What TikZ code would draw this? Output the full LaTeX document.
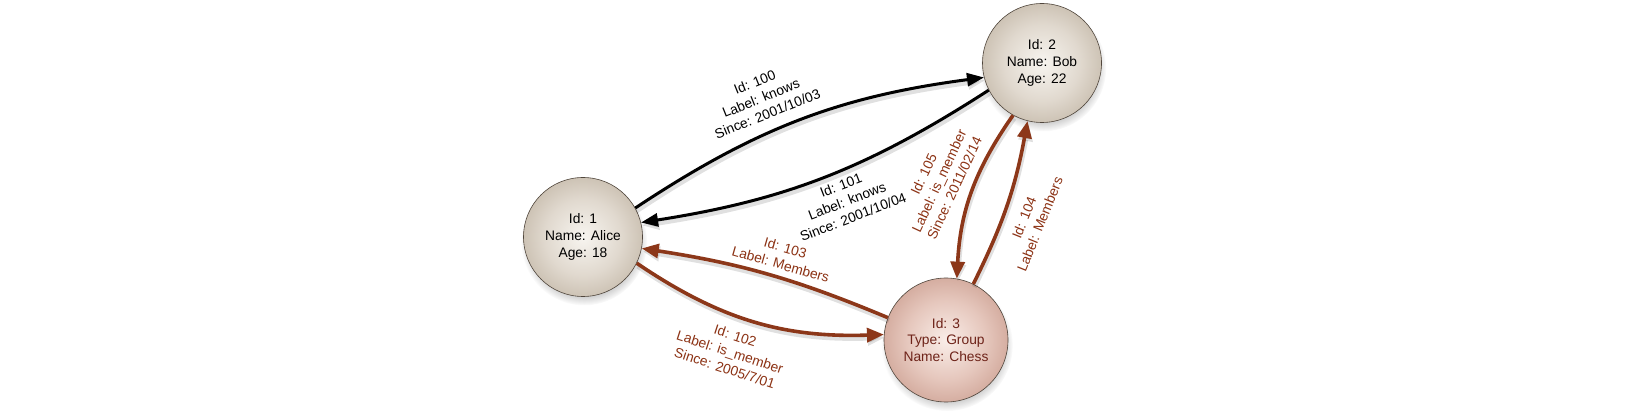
\documentclass[tikz,border=0pt]{standalone}
\usepackage{fontspec}
\setmainfont{Liberation Sans}
\usetikzlibrary{arrows.meta,fadings,shadows}
\definecolor{edgebrown}{RGB}{140,55,25}
\definecolor{labelbrown}{RGB}{140,50,20}
\definecolor{chesstext}{RGB}{110,35,25}
\definecolor{ringgray}{RGB}{80,70,60}
\pgfdeclareradialshading{personball}{\pgfpoint{0bp}{0bp}}{rgb(0bp)=(0.97,0.96,0.94); rgb(16bp)=(0.88,0.85,0.81); rgb(34bp)=(0.73,0.68,0.61); rgb(50bp)=(0.56,0.50,0.42)}
\pgfdeclareradialshading{groupball}{\pgfpoint{0bp}{0bp}}{rgb(0bp)=(0.98,0.93,0.91); rgb(16bp)=(0.90,0.78,0.74); rgb(34bp)=(0.77,0.58,0.52); rgb(50bp)=(0.62,0.39,0.32)}
\tikzset{
  ballbase/.style={circle, draw=ringgray, line width=0.6pt, inner sep=0pt, align=center,
    font=\fontsize{13.8}{16.7}\selectfont,
    drop shadow={opacity=0.5, shadow xshift=1pt, shadow yshift=-5pt, shadow scale=1.06,
      path fading=circle with fuzzy edge 20 percent}},
  person/.style={ballbase, shading=personball, minimum size=119pt, text=black},
  group/.style={ballbase, shading=groupball, minimum size=124pt, text=chesstext},
  edgeshadow/.style={preaction={draw=black, opacity=0.12, line width=5pt,
      transform canvas={xshift=1pt,yshift=-3pt}}},
  blackedge/.style={draw=black, line width=3pt, -{Triangle[length=17pt,width=13pt]}, edgeshadow},
  brownedge/.style={draw=edgebrown, line width=3.6pt, -{Triangle[length=17pt,width=14pt]}, edgeshadow},
  lbl/.style={align=center, inner sep=0pt, font=\fontsize{13.8}{17}\selectfont},
}
\begin{document}
\begin{tikzpicture}[x=1pt,y=-1pt]
\useasboundingbox[fill=white] (0,0) rectangle (1646,419);
\node[person] (alice) at (583,237) {Id: 1\\Name: Alice\\Age: 18};
\node[person] (bob) at (1042,63) {Id: 2\\Name: Bob\\Age: 22};
\node[group] (chess) at (946,340) {Id: 3\\Type: Group\\Name: Chess};

\draw[blackedge] (alice.29) to[bend left=13] (bob.194);
\draw[blackedge] (bob.207) to[bend left=12] (alice.14);
\draw[brownedge] (chess.159) to[bend right=7] (alice.-11);
\draw[brownedge] (alice.-26) to[bend right=18] (chess.175);
\draw[brownedge] (bob.241) to[bend right=16] (chess.80);
\draw[brownedge] (chess.64) to[bend right=8] (bob.256);

\node[lbl, text=black, rotate=22] (l100) at (761,98) {Id: 100\\Label: knows\\Since: 2001/10/03};
\node[lbl, text=black, rotate=21] (l101) at (847,201) {Id: 101\\Label: knows\\Since: 2001/10/04};
\node[lbl, text=labelbrown, rotate=-16] (l103) at (783,256) {Id: 103\\Label: Members};
\node[lbl, text=labelbrown, rotate=-18] (l102) at (730,352) {Id: 102\\Label: is\_member\\Since: 2005/7/01};
\node[lbl, text=labelbrown, rotate=65] (l105) at (939,181) {Id: 105\\Label: is\_member\\Since: 2011/02/14};
\node[lbl, text=labelbrown, rotate=68] (l104) at (1032,221) {Id: 104\\Label: Members};
\end{tikzpicture}
\end{document}
